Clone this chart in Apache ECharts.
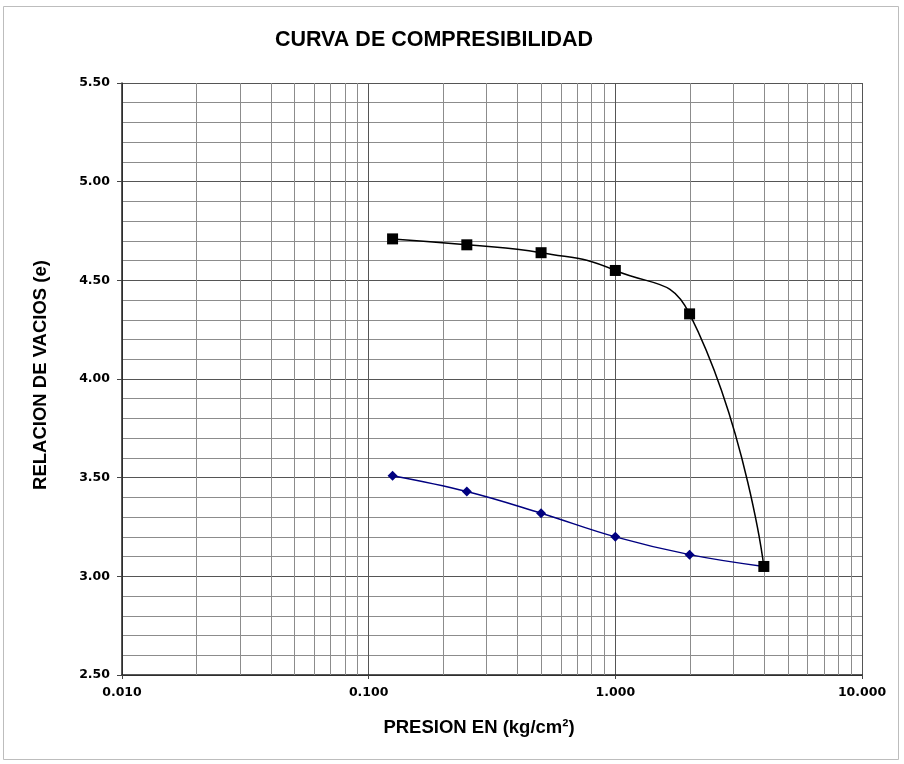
<!DOCTYPE html>
<html><head><meta charset="utf-8">
<script src="https://cdn.jsdelivr.net/npm/echarts@6/dist/echarts.min.js"></script>
<style>html,body{margin:0;padding:0;background:#fff}#c{width:904px;height:764px}</style>
</head><body><div id="c"></div>
<script>
const presion = [0.125, 0.25, 0.5, 1, 2, 4];
const carga = [4.71, 4.68, 4.64, 4.55, 4.33, 3.05];
const descarga = [3.51, 3.43, 3.32, 3.20, 3.11, 3.05];
const minorX = [0.02,0.03,0.04,0.05,0.06,0.07,0.08,0.09,0.2,0.3,0.4,0.5,0.6,0.7,0.8,0.9,2,3,4,5,6,7,8,9];
const titulo = 'CURVA DE COMPRESIBILIDAD';
const tituloX = 'PRESION EN (kg/cm²)';
const tituloY = 'RELACION DE VACIOS (e)';
const yMin = 2.5, yMax = 5.5;

const font = '"Liberation Sans", Arial, sans-serif';
const numFont = '"DejaVu Sans", Verdana, sans-serif';
const gridColor = '#8c8c8c';
const chart = echarts.init(document.getElementById('c'), null, {renderer:'canvas'});
chart.setOption({
  animation: false,
  backgroundColor: '#fff',
  graphic: [{type:'rect', shape:{x:3.5,y:6.5,width:895,height:753}, style:{fill:'none', stroke:'#bdbdbd', lineWidth:1}, silent:true}],
  title: {text: titulo, left: 429, top: 24, textAlign:'center',
    textStyle:{fontFamily:font, fontSize:21.5, fontWeight:'bold', color:'#000'}},
  grid: {left:122, top:83, right:42, bottom:89},
  xAxis: {type:'log', logBase:10, min:0.01, max:10,
    name: tituloX, nameLocation:'middle', nameGap:43,
    nameTextStyle:{fontFamily:font, fontSize:18.5, fontWeight:'bold', color:'#000', padding:[0,26,0,0]},
    axisLine:{show:true, onZero:false, lineStyle:{color:'#222', width:1.5}},
    axisTick:{show:true, length:4, lineStyle:{color:'#444'}},
    axisLabel:{fontFamily:numFont, fontSize:12.5, fontWeight:'bold', color:'#000', margin:11,
      formatter: v => Number(v).toFixed(3)},
    splitLine:{show:true, lineStyle:{color:'#555', width:1}},
    minorTick:{show:false}, minorSplitLine:{show:false}
  },
  yAxis: {type:'value', min:yMin, max:yMax, interval:0.5,
    name: tituloY, nameLocation:'middle', nameGap:72, nameRotate:90,
    nameTextStyle:{fontFamily:font, fontSize:18.5, fontWeight:'bold', color:'#000', padding:[0,0,0,8]},
    axisLine:{show:true, lineStyle:{color:'#222', width:1.5}},
    axisTick:{show:true, length:5, lineStyle:{color:'#444'}},
    axisLabel:{fontFamily:numFont, fontSize:12.5, fontWeight:'bold', color:'#000', margin:12,
      formatter: v => Number(v).toFixed(2)},
    splitLine:{show:true, lineStyle:{color:'#555', width:1}},
    minorTick:{show:false, splitNumber:5},
    minorSplitLine:{show:true, lineStyle:{color:gridColor, width:1}}
  },
  series: [
    {type:'custom', silent:true, z:1, data: minorX.map(v => [v, yMin]),
      encode:{x:0, y:1},
      renderItem: (params, api) => {
        const x = api.value(0);
        const p1 = api.coord([x, yMin]);
        const p2 = api.coord([x, yMax]);
        const px = Math.round(p1[0]) + 0.5;
        return {type:'line', shape:{x1:px, y1:p1[1], x2:px, y2:p2[1]},
          style:{stroke:gridColor, lineWidth:1}};
      }},
    {type:'line', name:'descarga', data: presion.map((p,i)=>[p, descarga[i]]),
      smooth:0.4, symbol:'diamond', symbolSize:10, z:3,
      lineStyle:{color:'#000080', width:1.5}, itemStyle:{color:'#000080'}},
    {type:'line', name:'carga', data: presion.map((p,i)=>[p, carga[i]]),
      smooth:0.5, symbol:'rect', symbolSize:11, z:4,
      lineStyle:{color:'#000', width:1.5}, itemStyle:{color:'#000'}}
  ]
});
</script></body></html>
